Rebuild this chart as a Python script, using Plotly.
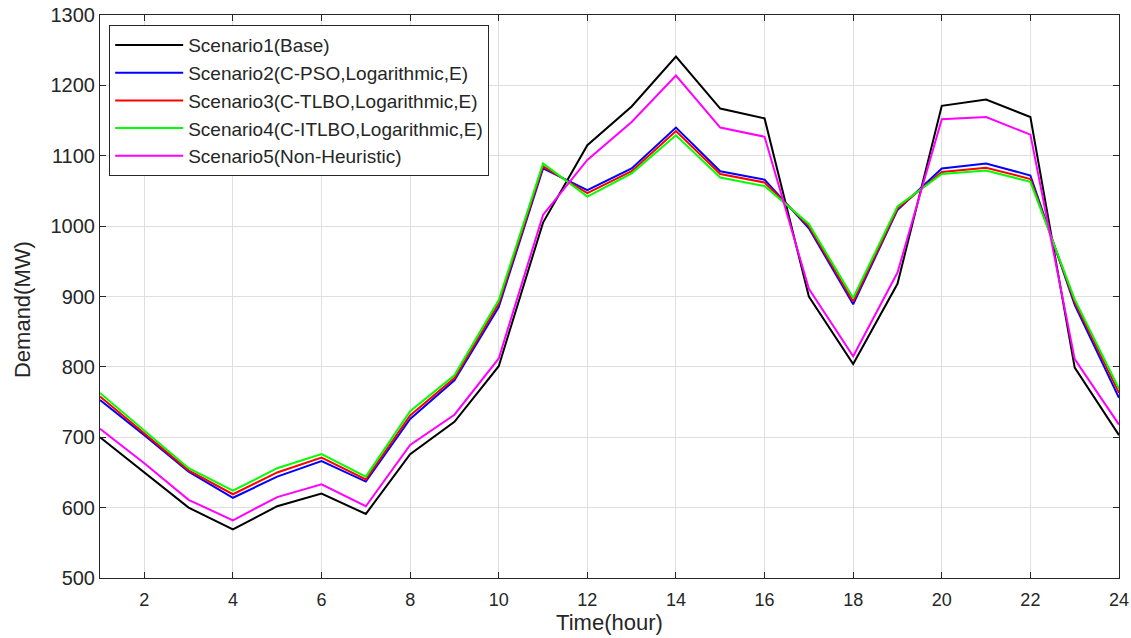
import plotly.graph_objects as go

hours = list(range(1, 25))

scenario1 = [700, 650, 600, 569, 602, 620, 591, 676, 722, 801, 1005, 1115,
             1170, 1241, 1167, 1153, 900, 804, 918, 1171, 1180, 1155, 799, 703]
scenario2 = [753, 703, 651, 614, 644, 666, 637, 726, 781, 885, 1082, 1051,
             1082, 1140, 1078, 1066, 997, 889, 1023, 1082, 1089, 1072, 888, 756]
scenario3 = [758, 706, 653, 619, 650, 671, 640, 731, 784, 890, 1085, 1047,
             1078, 1135, 1074, 1062, 1000, 893, 1025, 1077, 1083, 1067, 892, 763]
scenario4 = [763, 710, 656, 624, 656, 676, 644, 737, 788, 895, 1089, 1042,
             1075, 1129, 1069, 1057, 1003, 898, 1028, 1074, 1079, 1063, 896, 769]
scenario5 = [712, 663, 611, 582, 615, 633, 602, 689, 732, 812, 1016, 1094,
             1148, 1214, 1140, 1127, 911, 815, 934, 1152, 1155, 1130, 811, 718]

names = ["Scenario1(Base)", "Scenario2(C-PSO,Logarithmic,E)",
         "Scenario3(C-TLBO,Logarithmic,E)", "Scenario4(C-ITLBO,Logarithmic,E)",
         "Scenario5(Non-Heuristic)"]
series = [scenario1, scenario2, scenario3, scenario4, scenario5]
colors = ["#000000", "#0000FF", "#FF0000", "#00FF00", "#FF00FF"]

fig = go.Figure()
for n, s, c in zip(names, series, colors):
    fig.add_trace(go.Scatter(x=hours, y=s, mode="lines", name=n,
                             line=dict(color=c, width=2)))

txt = "#262626"
fig.update_layout(
    width=1131, height=638,
    margin=dict(l=100, r=12, t=15, b=60, autoexpand=False),
    paper_bgcolor="white", plot_bgcolor="white",
    font=dict(family="Liberation Sans, Arial, sans-serif", color=txt, size=16),
    showlegend=True,
    legend=dict(x=0.009, y=0.982, xanchor="left", yanchor="top",
                bgcolor="white", bordercolor="#262626", borderwidth=1,
                font=dict(size=19, color=txt), tracegroupgap=0, itemwidth=68),
    xaxis=dict(range=[1, 24], tickmode="array", tickvals=list(range(2, 25, 2)),
               showgrid=True, gridcolor="#DFDFDF", gridwidth=1,
               showline=True, linecolor="#262626", linewidth=1, mirror="ticks",
               ticks="inside", ticklen=6, tickcolor="#262626",
               zeroline=False, tickfont=dict(size=18), automargin=False,
               ticklabelstandoff=5, ticklabeloverflow="allow",
               title=dict(text="Time(hour)", font=dict(size=22), standoff=6)),
    yaxis=dict(range=[500, 1300], tickmode="array", tickvals=list(range(500, 1301, 100)),
               showgrid=True, gridcolor="#DFDFDF", gridwidth=1,
               showline=True, linecolor="#262626", linewidth=1, mirror="ticks",
               ticks="inside", ticklen=6, tickcolor="#262626",
               zeroline=False, tickfont=dict(size=20), automargin=False,
               ticklabeloverflow="allow"),
    annotations=[dict(text="Demand(MW)", textangle=-90, showarrow=False,
                      xref="paper", yref="paper", x=-0.0765, y=0.476,
                      xanchor="center", yanchor="middle",
                      font=dict(size=22, color=txt))],
)

fig.write_html("out.html", config={"displayModeBar": False},
               post_script="document.body.style.margin='0';document.body.style.overflow='hidden';")
